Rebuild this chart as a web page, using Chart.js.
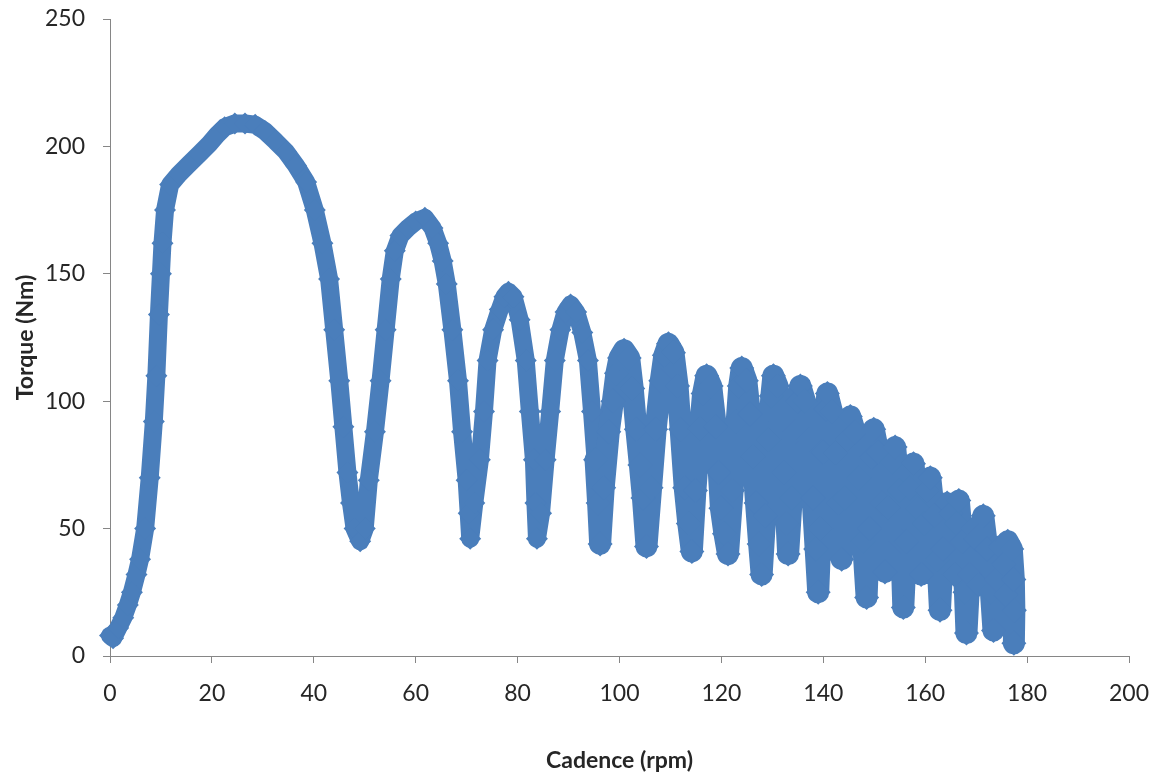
<!DOCTYPE html>
<html>
<head>
<meta charset="utf-8">
<title>Torque vs Cadence</title>
<script src="https://cdn.jsdelivr.net/npm/chart.js@4.4.1/dist/chart.umd.min.js"></script>
<style>
  html, body { margin: 0; padding: 0; background: #fff; }
  #wrap { width: 1156px; height: 776px; position: relative; }
</style>
</head>
<body>
<div id="wrap"><canvas id="torqueChart"></canvas></div>
<script>
// Measured cadence (rpm) / torque (Nm) trace, in recording order
const cadence = [
  0.0, 0.6, 1.6, 2.6, 3.5, 4.3, 5.2, 5.9, 6.9, 7.8, 8.6, 9.1, 9.6, 10.0, 10.3, 10.8, 11.8,
  13.5, 15.5, 17.5, 19.5, 21.0, 22.5, 24.5, 26.5, 28.5, 30.4, 32.5, 34.5, 36.5, 38.5, 40.2,
  41.7, 43.0, 44.0, 45.0, 45.8, 46.6, 47.3, 48.0, 49.1,
  50.0, 50.8, 52.0, 53.1, 54.1, 55.1, 55.9, 57.0, 58.5, 60.0, 61.8, 63.3, 64.4, 65.3, 66.1,
  67.2, 68.3, 69.1, 70.0, 70.4, 70.7,
  71.5, 72.6, 73.4, 74.1, 75.2, 76.5, 77.4, 78.2, 79.2, 80.4, 81.6, 82.4, 83.2, 83.5, 83.8,
  84.6, 85.5, 86.4, 87.3, 88.4, 89.4, 90.4, 91.5, 92.7, 93.8, 94.6, 95.3, 95.8, 96.2,
  96.9, 97.9, 98.7, 99.4, 100.0, 100.9, 101.9, 102.6, 103.3, 104.0, 104.6, 105.3,
  106.2, 107.1, 108.1, 108.8, 109.6, 110.6, 111.4, 112.0, 112.8, 113.5, 114.2,
  114.9, 115.8, 116.4, 117.1, 118.0, 118.9, 119.5, 119.9, 120.6, 121.3,
  122.2, 123.0, 123.5, 124.0, 124.9, 125.6, 126.2, 126.8, 127.4, 127.9,
  128.6, 129.3, 129.8, 130.2, 131.0, 131.7, 132.3, 132.8, 133.1,
  133.8, 134.5, 135.0, 135.5, 136.4, 137.2, 137.9, 138.5, 139.0,
  139.5, 140.0, 140.5, 140.8, 141.7, 142.4, 143.0, 143.6,
  144.2, 144.8, 145.3, 146.2, 147.0, 147.8, 148.5,
  149.0, 149.5, 149.9, 150.8, 151.5, 152.1,
  152.7, 153.5, 154.1, 154.9, 155.3, 155.7,
  156.3, 157.0, 157.7, 158.5, 159.2,
  159.8, 160.5, 161.0, 161.8, 162.4, 162.9,
  163.5, 164.3, 165.0, 165.7,
  166.2, 166.6, 167.3, 167.8, 168.1,
  168.7, 169.4, 170.0, 170.5,
  171.0, 171.4, 172.2, 172.9, 173.4,
  174.0, 174.7, 175.4, 175.8,
  176.2, 177.0, 177.4, 177.5, 177.4
];
const torque = [
  8, 7, 11, 15, 20, 25, 32, 38, 50, 70, 92, 110, 134, 150, 162, 175, 185,
  189, 193, 197, 201, 204.5, 207.5, 209, 209, 208.5, 206, 202, 198, 192.5, 186, 175,
  162, 148, 128, 108, 90, 72, 60, 50, 45,
  50, 69, 88, 108, 128, 148, 159, 165, 168, 170.5, 172, 168, 162, 155, 146,
  128, 108, 88, 69, 56, 46,
  60, 77, 96, 116, 128, 136, 141, 143, 141, 132, 116, 96, 77, 60, 46,
  56, 77, 96, 116, 128, 135, 138, 135, 127, 116, 96, 77, 60, 44,
  66, 88, 100, 111, 117, 120, 117, 105, 89, 75, 62, 43,
  66, 89, 108, 118, 122.5, 119, 106, 89, 66, 52, 41,
  65, 89, 103, 110, 106, 90, 72, 58, 48, 40,
  65, 92, 106, 113, 108, 95, 78, 60, 44, 32,
  55, 85, 102, 110, 106, 92, 72, 52, 40,
  62, 88, 100, 106, 100, 85, 62, 42, 25,
  50, 80, 97, 103, 96, 80, 60, 38,
  62, 85, 94, 88, 70, 45, 23,
  50, 78, 89, 80, 60, 33,
  58, 76, 82, 65, 45, 19,
  45, 66, 75.5, 58, 32,
  52, 65, 70, 55, 38, 18,
  42, 60, 56, 32,
  52, 61, 45, 25, 9,
  32, 50, 46, 28,
  48, 55, 42, 25, 10,
  30, 43, 36, 24,
  45, 42, 30, 18, 5
];
const xTicks = [0, 20, 40, 60, 80, 100, 120, 140, 160, 180, 200];
const yTicks = [0, 50, 100, 150, 200, 250];

const axisColor = '#868686';
const textColor = '#262626';
const markColor = '#4a7ebb';
const fontFamily = 'Lato, "Open Sans", sans-serif';

// above ~95 rpm the overlapping revolutions make the trace a wider band
const denseFrom = 95;

const points = cadence.map((c, i) => ({ x: c, y: torque[i] }));

// the plot box is fixed by layout padding alone, so drop the label overhang
function noOverhang(scale) {
  scale.paddingTop = 0;
  scale.paddingBottom = 0;
  scale.paddingLeft = 0;
  scale.paddingRight = 0;
}

new Chart(document.getElementById('torqueChart'), {
  type: 'scatter',
  data: {
    datasets: [{
      data: points,
      showLine: true,
      borderColor: markColor,
      borderWidth: 18,
      borderJoinStyle: 'round',
      borderCapStyle: 'round',
      segment: {
        borderWidth: ctx => (ctx.p0.parsed.x > denseFrom ? 22 : 18)
      },
      pointStyle: 'rectRot',
      pointRadius: ctx => (ctx.raw && ctx.raw.x > denseFrom ? 12.5 : 11),
      pointBackgroundColor: markColor,
      pointBorderColor: markColor,
      pointBorderWidth: 0,
      clip: false
    }]
  },
  options: {
    responsive: true,
    maintainAspectRatio: false,
    animation: false,
    events: [],
    layout: { padding: { top: 19, right: 27, left: 0, bottom: 0 } },
    plugins: { legend: { display: false }, tooltip: { enabled: false } },
    scales: {
      x: {
        type: 'linear',
        min: 0,
        max: 200,
        afterBuildTicks: scale => { scale.ticks = xTicks.map(v => ({ value: v })); },
        afterFit: scale => { scale.height = 120; noOverhang(scale); },
        grid: { drawOnChartArea: false, tickLength: 7, color: axisColor },
        border: { color: axisColor, width: 1 },
        ticks: { color: textColor, padding: 17, maxRotation: 0, font: { family: fontFamily, size: 23 } },
        title: {
          display: true,
          text: 'Cadence (rpm)',
          color: textColor,
          padding: { top: 0, bottom: 2 },
          font: { family: fontFamily, size: 23, weight: 'bold' }
        }
      },
      y: {
        type: 'linear',
        min: 0,
        max: 250,
        afterBuildTicks: scale => { scale.ticks = yTicks.map(v => ({ value: v })); },
        afterFit: scale => { scale.width = 110; noOverhang(scale); },
        grid: { drawOnChartArea: false, tickLength: 7, color: axisColor },
        border: { color: axisColor, width: 1 },
        ticks: { color: textColor, padding: 18, font: { family: fontFamily, size: 23 } },
        title: {
          display: true,
          text: 'Torque (Nm)',
          color: textColor,
          padding: { top: 12, bottom: 0 },
          font: { family: fontFamily, size: 23, weight: 'bold' }
        }
      }
    }
  }
});
</script>
</body>
</html>
